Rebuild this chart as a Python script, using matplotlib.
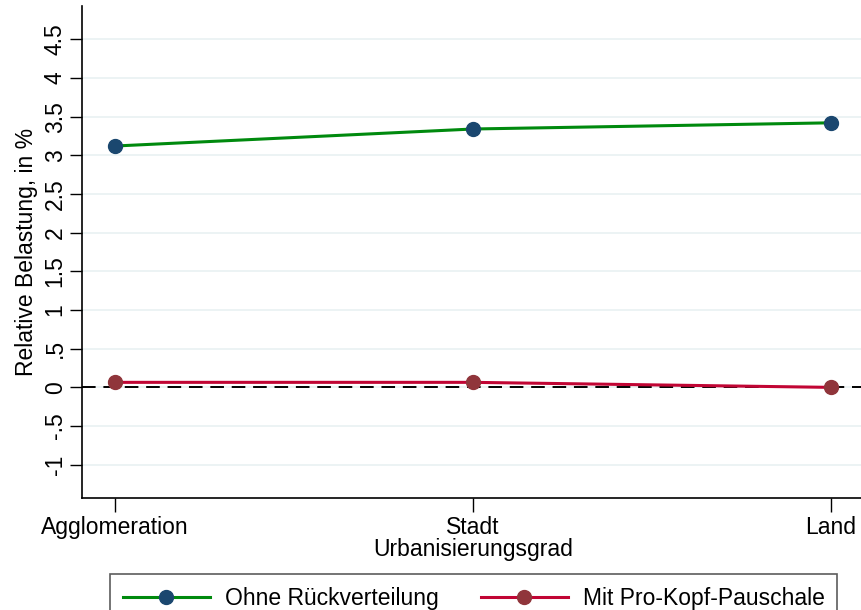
import matplotlib
matplotlib.use("Agg")
import matplotlib.pyplot as plt

categories = ["Agglomeration", "Stadt", "Land"]
ohne = [3.12, 3.34, 3.42]
mit = [0.065, 0.065, 0.0]
yticks = [-1, -0.5, 0, 0.5, 1, 1.5, 2, 2.5, 3, 3.5, 4, 4.5]
yticklabels = ["-1", "-.5", "0", ".5", "1", "1.5", "2", "2.5", "3", "3.5", "4", "4.5"]

plt.rcParams['font.family'] = ['Liberation Sans', 'DejaVu Sans']

fig = plt.figure(figsize=(8.61, 6.10), dpi=100)
W, H = 861, 610
ax = fig.add_axes([82/W, (H-498)/H, (864-82)/W, (498-6)/H])

FS = 16.5
x = list(range(len(categories)))
ax.axhline(0, color='black', lw=1.4, ls=(0, (7, 4)), zorder=2)
l1, = ax.plot(x, ohne, color='#008a0e', lw=2.2, marker='o', ms=10,
              mfc='#1a476f', mec='#1a476f', zorder=3, label='Ohne Rückverteilung')
l2, = ax.plot(x, mit, color='#c10534', lw=2.2, marker='o', ms=10,
              mfc='#90353b', mec='#90353b', zorder=3, label='Mit Pro-Kopf-Pauschale')

ax.set_xlim(-0.092, 2.092)
ax.set_ylim(-1.43, 4.93)
ax.set_yticks(yticks)
ax.set_yticklabels(yticklabels, rotation=90, va='center')
ax.set_xticks(x)
ax.set_xticklabels(categories)
ax.tick_params(axis='y', length=9, width=1, labelsize=FS, pad=2)
ax.tick_params(axis='x', length=10, width=1, labelsize=FS, pad=3)
ax.grid(axis='y', color='#eaf2f3', lw=1.3, zorder=0)
ax.set_axisbelow(True)
for s in ['top', 'right']:
    ax.spines[s].set_visible(False)
for s in ['left', 'bottom']:
    ax.spines[s].set_linewidth(1.2)
ax.set_ylabel('Relative Belastung, in %', fontsize=FS, labelpad=4)
ax.set_xlabel('Urbanisierungsgrad', fontsize=FS, labelpad=-1)

leg = fig.legend(handles=[l1, l2], loc='upper left', bbox_to_anchor=(110/W, (H-574)/H),
                 ncol=2, fontsize=FS, frameon=True, fancybox=False, edgecolor='#333333',
                 handlelength=3.8, handletextpad=0.65, columnspacing=1.85,
                 borderpad=0.55, borderaxespad=0, markerscale=1.0)
leg.get_frame().set_linewidth(1.2)

fig.savefig('out.png', dpi=100)
